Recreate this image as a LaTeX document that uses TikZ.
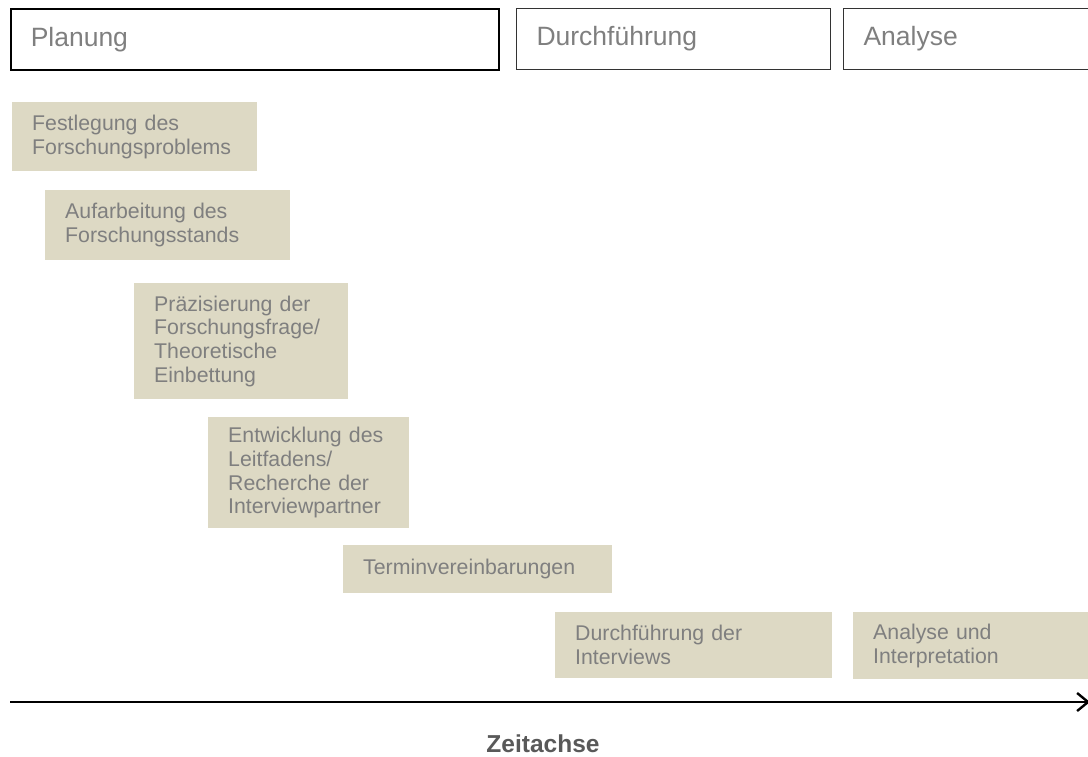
\documentclass[tikz,border=0pt]{standalone}
\usepackage{fontspec}
\setmainfont{Liberation Sans}
\usetikzlibrary{arrows.meta}
\definecolor{taskfill}{HTML}{DDD9C4}
\definecolor{textgray}{HTML}{7F7F7F}
\definecolor{labelgray}{HTML}{595959}

\begin{document}
\begin{tikzpicture}[
  x=1pt, y=-1pt,
  phase/.style={draw=black!80, line width=1pt, anchor=north west,
    minimum height=61pt, inner xsep=20pt, align=left, text=textgray,
    font=\fontsize{26.5}{30}\selectfont},
  task/.style={fill=taskfill, anchor=north west, inner xsep=20pt,
    inner ysep=0pt, align=left, text=textgray,
    font=\fontsize{21.3}{23.8}\selectfont},
  arr/.style={-{Straight Barb[length=11pt, width=18pt]}, line width=2.4pt}
]
\useasboundingbox (0,0) rectangle (1088,756);

% phases
\node[phase, line width=1.5pt, draw=black, text width=448pt] (planung) at (10,8) {Planung};
\node[phase, text width=274pt] (durchf) at (516,8) {Durchführung};
\node[phase, text width=217pt] (analyse) at (843,8) {Analyse};

% steps
\node[task, text width=205pt, minimum height=69pt] (problem) at (12,102) {Festlegung des\\Forschungsproblems};
\node[task, text width=205pt, minimum height=70pt] (stand) at (45,190) {Aufarbeitung des\\Forschungsstands};
\node[task, text width=174pt, minimum height=116pt] (frage) at (134,283) {Präzisierung der\\Forschungsfrage/\\Theoretische\\Einbettung};
\node[task, text width=161pt, minimum height=111pt] (leitfaden) at (208,417) {Entwicklung des\\Leitfadens/\\Recherche der\\Interviewpartner};
\node[task, text width=229pt, minimum height=48pt] (termine) at (343,545) {Terminvereinbarungen};
\node[task, text width=237pt, minimum height=66pt] (interviews) at (555,612) {Durchführung der\\Interviews};
\node[task, text width=207pt, minimum height=67pt] (auswertung) at (853,612) {Analyse und\\Interpretation};

% time axis
\coordinate (tstart) at (10,702);
\coordinate (tend) at (1090,702);
\draw[arr] (tstart) -- (tend);
\node[anchor=base, text=labelgray, font=\bfseries\fontsize{24.5}{30}\selectfont] (zeit) at (543,752) {Zeitachse};
\end{tikzpicture}
\end{document}
